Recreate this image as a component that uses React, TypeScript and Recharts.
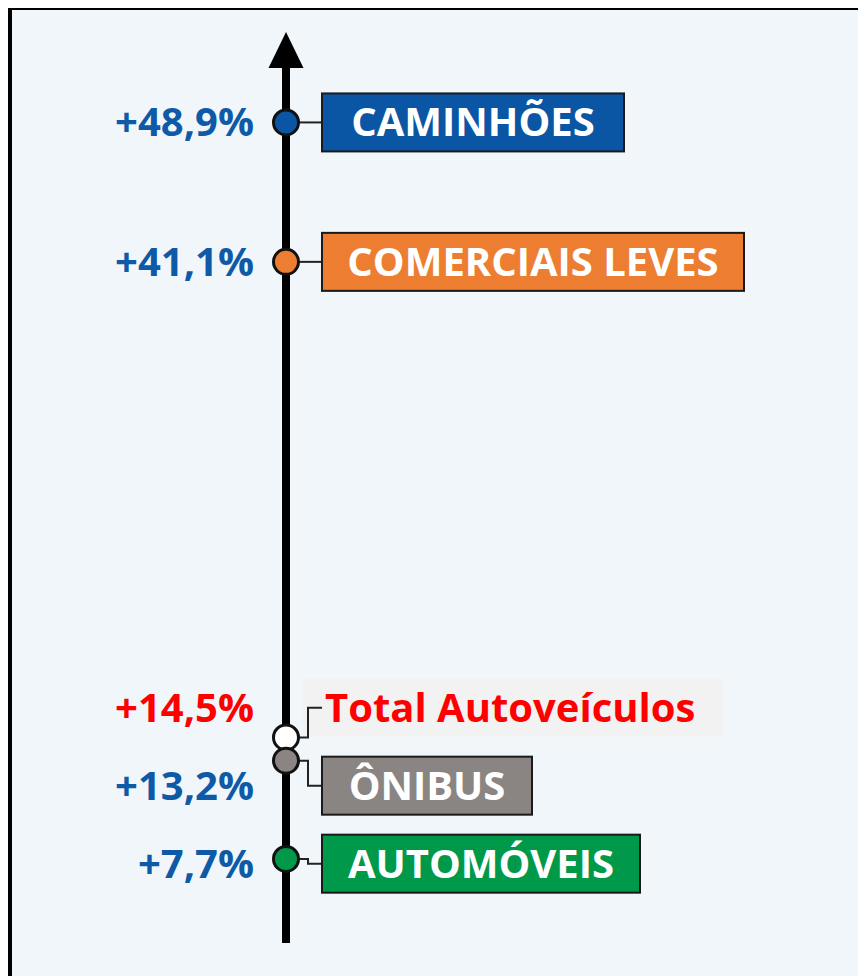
import { ReferenceLine, Scatter, ScatterChart, XAxis, YAxis } from "recharts";

const categories = ["CAMINHÕES", "COMERCIAIS LEVES", "Total Autoveículos", "ÔNIBUS", "AUTOMÓVEIS"];
const growth = [48.9, 41.1, 14.5, 13.2, 7.7];
const growthLabels = ["+48,9%", "+41,1%", "+14,5%", "+13,2%", "+7,7%"];

// per-category look (kept apart from the data)
const looks: Record<string, { fill: string; dot: string; text: string; pct: string; width: number; plain?: boolean }> = {
  "CAMINHÕES": { fill: "#0A56A4", dot: "#0A56A4", text: "#FFFFFF", pct: "#0E5AA7", width: 302 },
  "COMERCIAIS LEVES": { fill: "#ED7D31", dot: "#ED7D31", text: "#FFFFFF", pct: "#0E5AA7", width: 422 },
  "Total Autoveículos": { fill: "#F2F2F2", dot: "#FFFFFF", text: "#FF0000", pct: "#FF0000", width: 420, plain: true },
  "ÔNIBUS": { fill: "#8A8483", dot: "#8A8483", text: "#FFFFFF", pct: "#0E5AA7", width: 210 },
  "AUTOMÓVEIS": { fill: "#00994A", dot: "#00994A", text: "#FFFFFF", pct: "#0E5AA7", width: 318 },
};

const W = 854;
const H = 966;
const MARGIN = { top: 57, right: 20, bottom: 33, left: 274 };
const Y_DOMAIN: [number, number] = [3, 52];
const LABEL_GAP = 78;
const FONT = "'Open Sans', Lato, sans-serif";

const data = categories.map((name, i) => ({ name, value: growth[i], label: growthLabels[i], axis: 0 }));

// labels that would collide get pushed apart, centred on their points
function spreadLabels(values: number[]) {
  const pxPerUnit = (H - MARGIN.top - MARGIN.bottom) / (Y_DOMAIN[1] - Y_DOMAIN[0]);
  const wanted = values.map((v) => (Y_DOMAIN[1] - v) * pxPerUnit);
  const order = wanted.map((_, i) => i).sort((a, b) => wanted[a] - wanted[b]);
  const groups: { ids: number[]; start: number }[] = [];
  for (const i of order) {
    groups.push({ ids: [i], start: wanted[i] });
    while (groups.length > 1) {
      const b = groups[groups.length - 1];
      const a = groups[groups.length - 2];
      if (a.start + a.ids.length * LABEL_GAP <= b.start) break;
      const ids = [...a.ids, ...b.ids];
      const mean = ids.reduce((s, k) => s + wanted[k], 0) / ids.length;
      groups.splice(groups.length - 2, 2, { ids, start: mean - ((ids.length - 1) * LABEL_GAP) / 2 });
    }
  }
  const shift = new Array(values.length).fill(0);
  groups.forEach((g) => g.ids.forEach((k, j) => (shift[k] = g.start + j * LABEL_GAP - wanted[k])));
  return shift;
}

const labelShift = spreadLabels(growth);

function Marker(props: any) {
  const { cx, cy, payload } = props;
  const i = categories.indexOf(payload.name);
  const look = looks[payload.name];
  const ly = cy + labelShift[i];
  const r = 12.5;
  const elbow = cx + 22;
  const boxX = cx + 36;
  return (
    <g>
      {look.plain ? (
        <rect x={cx + 17} y={ly - 29} width={look.width} height={58} fill={look.fill} />
      ) : null}
      <polyline
        points={`${cx + r},${cy} ${elbow},${cy} ${elbow},${ly} ${boxX},${ly}`}
        fill="none"
        stroke="#222"
        strokeWidth={2}
      />
      {look.plain ? (
        <text x={cx + 39} y={ly + 14} fill={look.text} fontSize={40} fontWeight={700} fontFamily={FONT}>
          {payload.name}
        </text>
      ) : (
        <g>
          <rect x={boxX} y={ly - 29} width={look.width} height={58} fill={look.fill} stroke="#1a1a1a" strokeWidth={2} />
          <text
            x={boxX + look.width / 2}
            y={ly + 14}
            textAnchor="middle"
            fill={look.text}
            fontSize={40}
            fontWeight={700}
            fontFamily={FONT}
          >
            {payload.name}
          </text>
        </g>
      )}
      <text x={cx - 32} y={ly + 14} textAnchor="end" fill={look.pct} fontSize={40} fontWeight={700} fontFamily={FONT}>
        {payload.label}
      </text>
      <circle cx={cx} cy={cy} r={r} fill={look.dot} stroke="#111" strokeWidth={3} />
    </g>
  );
}

// vertical axis drawn as a thick line with an arrow head on top
function AxisWithArrow(props: any) {
  const { x1, y1, x2, y2 } = props;
  const top = Math.min(y1, y2);
  const bottom = Math.max(y1, y2);
  return (
    <g>
      <line x1={x1} y1={top} x2={x2} y2={bottom} stroke="#000" strokeWidth={8} />
      <polygon points={`${x1},${top - 35} ${x1 - 17.5},${top + 1} ${x1 + 17.5},${top + 1}`} fill="#000" />
    </g>
  );
}

export default function App() {
  return (
    <div
      style={{
        marginTop: -2,
        width: W,
        height: H,
        borderTop: "4px solid #000",
        borderLeft: "4px solid #000",
        background: "#F1F6FA",
      }}
    >
      <ScatterChart width={W} height={H} margin={MARGIN}>
        <XAxis type="number" dataKey="axis" domain={[0, 1]} hide />
        <YAxis type="number" dataKey="value" domain={Y_DOMAIN} allowDataOverflow hide />
        <ReferenceLine x={0} shape={AxisWithArrow} />
        <Scatter data={data} shape={<Marker />} isAnimationActive={false} />
      </ScatterChart>
    </div>
  );
}
